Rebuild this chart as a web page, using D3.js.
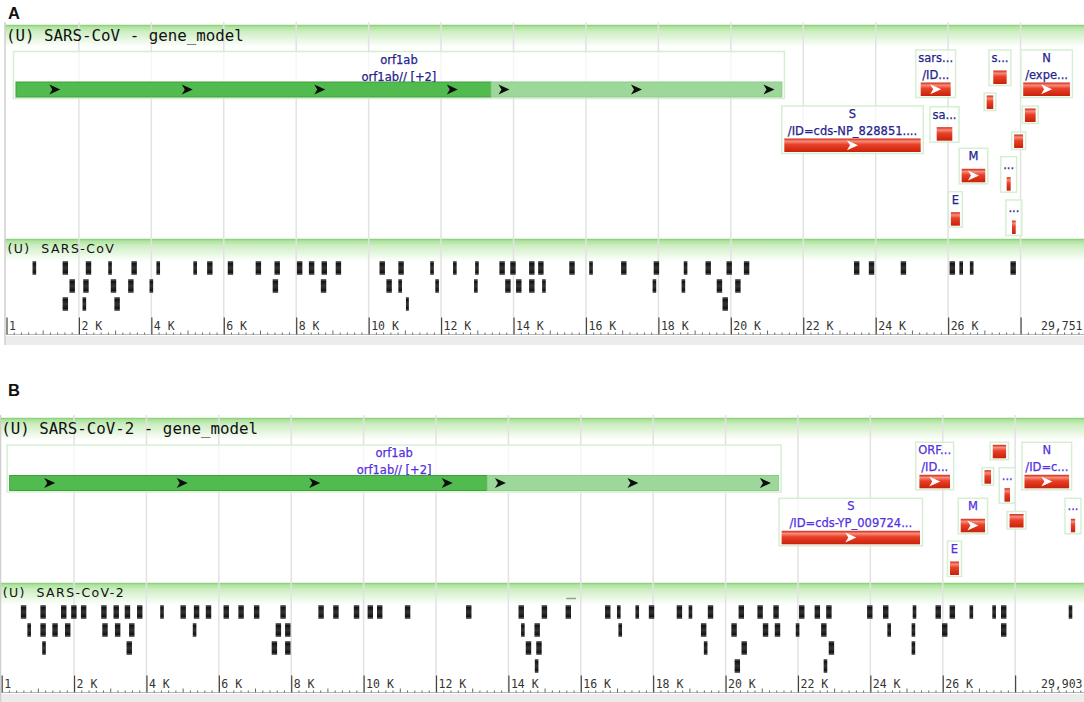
<!DOCTYPE html>
<html>
<head>
<meta charset="utf-8">
<script src="https://cdn.jsdelivr.net/npm/d3@7"></script>
<style>
  html, body { margin: 0; padding: 0; background: #fff; }
  svg { display: block; }
</style>
</head>
<body>
<svg id="chart" width="1084" height="702"></svg>
<script>
// ---------- data (genome coordinates, bp) ----------
const genomeLenA = 29751;
const genomeLenB = 29903;

const majorTicks = [2000, 4000, 6000, 8000, 10000, 12000, 14000, 16000, 18000, 20000, 22000, 24000, 26000, 28000];
// 28 K has no label: the end coordinate sits there
const tickLabels = ['2 K', '4 K', '6 K', '8 K', '10 K', '12 K', '14 K', '16 K', '18 K', '20 K', '22 K', '24 K', '26 K', ''];

// gene_model track, SARS-CoV
const genesA = [
  {id: 'orf1ab', segs: [[263, 13380], [13380, 21410]], labels: ['orf1ab', 'orf1ab// [+2]']},
  {id: 'S', segs: [[21476, 25242]], labels: ['S', '/ID=cds-NP_828851....']},
  {id: 'orf3a', segs: [[25242, 26070]], labels: ['sars...', '/ID...']},
  {id: 'orf3b', segs: [[25684, 26115]], labels: ['sa...']},
  {id: 'E', segs: [[26076, 26325]], labels: ['E']},
  {id: 'M', segs: [[26373, 27025]], labels: ['M']},
  {id: 'orf6', segs: [[27063, 27246]], labels: []},
  {id: 'orf7a', segs: [[27246, 27616]], labels: ['s...']},
  {id: 'orf7b', segs: [[27616, 27727]], labels: ['...']},
  {id: 'orf8a', segs: [[27763, 27866]], labels: ['...']},
  {id: 'orf8b', segs: [[27821, 28069]], labels: []},
  {id: 'N', segs: [[28073, 29363]], labels: ['N', '/expe...']},
  {id: 'orf9b', segs: [[28120, 28416]], labels: []},
];

// gene_model track, SARS-CoV-2
const genesB = [
  {id: 'orf1ab', segs: [[221, 13416], [13416, 21465]], labels: ['orf1ab', 'orf1ab// [+2]']},
  {id: 'S', segs: [[21548, 25372]], labels: ['S', '/ID=cds-YP_009724...']},
  {id: 'ORF3a', segs: [[25355, 26201]], labels: ['ORF...', '/ID...']},
  {id: 'E', segs: [[26201, 26450]], labels: ['E']},
  {id: 'M', segs: [[26497, 27169]], labels: ['M']},
  {id: 'ORF6', segs: [[27152, 27335]], labels: []},
  {id: 'ORF7a', segs: [[27382, 27750]], labels: []},
  {id: 'ORF7b', segs: [[27705, 27859]], labels: ['...']},
  {id: 'ORF8', segs: [[27846, 28233]], labels: []},
  {id: 'N', segs: [[28259, 29492]], labels: ['N', '/ID=c...']},
  {id: 'ORF10', segs: [[29540, 29659]], labels: ['...']},
];

// feature track SARS-CoV, one array per stacked row: [start, end]
const covRow1 = [
  [720, 820], [1550, 1700], [2190, 2340], [2810, 2910], [3450, 3600], [4140, 4240],
  [5160, 5260], [5540, 5690], [6110, 6260], [6880, 7030], [7400, 7550], [8020, 8170],
  [8350, 8500], [8700, 8850], [9090, 9240], [10300, 10450], [10820, 10970], [11700, 11800],
  [12330, 12430], [12940, 13040], [13610, 13760], [13910, 14060], [14430, 14580], [14680, 14830],
  [15540, 15690], [16090, 16190], [16970, 17120], [17870, 18020], [18700, 18800], [19300, 19450],
  [19880, 20030], [20360, 20510], [23400, 23550], [23810, 23960], [24690, 24840], [26040, 26190],
  [26310, 26410], [26600, 26700], [27720, 27870],
];
const covRow2 = [
  [1740, 1890], [2120, 2270], [2880, 3030], [3360, 3510], [3950, 4050], [7350, 7500],
  [8680, 8830], [10490, 10640], [10820, 10920], [11840, 11940], [12910, 13010], [13770, 13920],
  [14070, 14220], [14430, 14580], [14790, 14890], [17840, 17940], [18640, 18740], [19610, 19760],
  [20120, 20270],
];
const covRow3 = [
  [1550, 1700], [2100, 2200], [2980, 3130], [11030, 11110], [19770, 19920],
];

// feature track SARS-CoV-2
const cov2Row1 = [
  [530, 680], [1070, 1220], [1640, 1790], [1920, 2070], [2190, 2340], [2750, 2900],
  [3090, 3240], [3400, 3550], [3740, 3890], [4380, 4480], [4940, 5090], [5310, 5460],
  [5640, 5790], [6130, 6280], [6540, 6690], [6970, 7120], [7700, 7850], [8750, 8900],
  [9160, 9310], [9730, 9880], [10110, 10260], [10370, 10520], [11140, 11290], [12830, 12980],
  [14280, 14430], [14920, 15070], [15580, 15730], [16670, 16820], [17000, 17100], [17510, 17610],
  [17880, 18030], [18650, 18800], [18980, 19080], [19510, 19660], [20360, 20510], [20880, 21030],
  [21320, 21470], [22030, 22180], [22460, 22610], [22780, 22930], [23910, 24060], [24350, 24500],
  [25170, 25270], [25800, 25950], [26190, 26340], [26740, 26840], [27370, 27470], [27610, 27760],
  [29480, 29580],
];
const cov2Row2 = [
  [710, 810], [1070, 1220], [1400, 1550], [1750, 1900], [2780, 2930], [3130, 3280],
  [3520, 3670], [5280, 5380], [7570, 7720], [7830, 7980], [14350, 14450], [14720, 14870],
  [17040, 17140], [19320, 19470], [20160, 20310], [21030, 21180], [21360, 21510], [21940, 22040],
  [22640, 22790], [24470, 24570], [25140, 25240], [25980, 26130], [27610, 27760],
];
const cov2Row3 = [
  [1120, 1220], [3450, 3600], [7460, 7610], [7830, 7980], [14480, 14630], [14770, 14920],
  [19400, 19500], [20440, 20590], [22850, 23000], [25140, 25240],
];
const cov2Row4 = [
  [14730, 14830], [20250, 20400], [22710, 22810],
];
const cov2Dash = [[15600, 15870]];

// ---------- layout ----------
const W = 1084;

// top of each feature box below the gene_model header (stacking)
const geneTopA = {orf1ab: 26.5, orf3a: 25, orf7a: 25, N: 25, orf6: 68, S: 81, orf3b: 81.7,
  orf9b: 81, orf8b: 107, M: 123.3, orf7b: 131.7, E: 166.7, orf8a: 175};
const geneTopB = {orf1ab: 27, ORF3a: 24.3, N: 24.3, ORF7a: 24.3, ORF6: 49.7, ORF7b: 49.7,
  S: 80.3, M: 80.3, ORF10: 80.3, ORF8: 93.5, E: 123};

const panels = [
  {
    letter: 'A', letterY: 19, x0: 6.5, borderX: 5, genomeLen: genomeLenA, endLabel: '29,751',
    gridTop: 22, geneHdr: 25, varHdr: 239, axisY: 334.5, bottom: 345,
    geneTitle: '(U) SARS-CoV - gene_model', varTitle: '(U)  SARS-CoV',
    genes: genesA, geneTop: geneTopA, labelColor: '#24248c',
    rows: [covRow1, covRow2, covRow3], dash: [],
  },
  {
    letter: 'B', letterY: 396, x0: 1.7, borderX: 0.5, genomeLen: genomeLenB, endLabel: '29,903',
    gridTop: 415, geneHdr: 418, varHdr: 583, axisY: 692.5, bottom: 702,
    geneTitle: '(U) SARS-CoV-2 - gene_model', varTitle: '(U)  SARS-CoV-2',
    genes: genesB, geneTop: geneTopB, labelColor: '#5530df',
    rows: [cov2Row1, cov2Row2, cov2Row3, cov2Row4], dash: cov2Dash,
  },
];

const svg = d3.select('#chart');
const defs = svg.append('defs');

const grad = (id, stops) => {
  const g = defs.append('linearGradient')
    .attr('id', id)
    .attr('x1', 0).attr('y1', 0).attr('x2', 0).attr('y2', 1);
  stops.forEach(([o, c]) => g.append('stop').attr('offset', o).attr('stop-color', c));
};
grad('hdrGrad', [[0, '#a2de90'], [0.3, '#cdeec2'], [1, '#ffffff']]);
grad('redGrad', [[0, '#cf2810'], [0.2, '#f68c7c'], [0.45, '#ea4028'], [1, '#c8220a']]);
grad('markGrad', [[0, '#777'], [0.18, '#141414'], [0.5, '#333'], [0.82, '#141414'], [1, '#777']]);

const chevron = 'M-5.5,-5 L5.5,0 L-5.5,5 L-2.5,0 Z';
const arrowGap = 132.5;

const drawPanel = (p) => {
  const g = svg.append('g');
  const x = d3.scaleLinear().domain([1, p.genomeLen]).range([p.x0, W]);

  // bottom band under the ruler
  g.append('rect')
    .attr('x', p.borderX).attr('y', p.axisY + 1.5)
    .attr('width', W).attr('height', p.bottom - p.axisY - 1.5)
    .attr('fill', '#ececec');

  // track headers
  [p.geneHdr, p.varHdr].forEach(y => {
    g.append('rect')
      .attr('x', p.borderX).attr('y', y)
      .attr('width', W).attr('height', 22)
      .attr('fill', 'url(#hdrGrad)');
    g.append('line')
      .attr('x1', p.borderX).attr('x2', W)
      .attr('y1', y + 0.5).attr('y2', y + 0.5)
      .attr('stroke', '#8fd47c').attr('stroke-width', 1.5);
  });

  // vertical grid
  g.append('g').selectAll('line')
    .data(majorTicks)
    .join('line')
      .attr('x1', d => x(d)).attr('x2', d => x(d))
      .attr('y1', p.gridTop).attr('y2', p.axisY)
      .attr('stroke', '#e2e2e2').attr('stroke-width', 1.5);

  // left border
  g.append('line')
    .attr('x1', p.borderX).attr('x2', p.borderX)
    .attr('y1', p.gridTop).attr('y2', p.bottom)
    .attr('stroke', '#cfcfcf').attr('stroke-width', 1.5);

  // panel letter
  g.append('text')
    .attr('x', 8).attr('y', p.letterY)
    .attr('font-family', 'Liberation Sans, Arial, sans-serif')
    .attr('font-weight', 'bold').attr('font-size', 16.5)
    .attr('fill', '#111')
    .text(p.letter);

  // track titles
  g.append('text')
    .attr('x', p.x0 - 0.5).attr('y', p.geneHdr + 16)
    .attr('font-family', 'DejaVu Sans Mono, monospace')
    .attr('font-size', 15.8).attr('fill', '#111')
    .text(p.geneTitle);
  g.append('text')
    .attr('x', p.x0 + 1).attr('y', p.varHdr + 13.5)
    .style('white-space', 'pre')
    .attr('font-family', 'DejaVu Sans, sans-serif')
    .attr('font-size', 12.5).attr('letter-spacing', 1.4)
    .attr('fill', '#111')
    .text(p.varTitle);

  // gene features
  const geneG = g.append('g');
  p.genes.forEach(f => {
    const top = p.geneHdr + p.geneTop[f.id];
    const fx0 = x(f.segs[0][0]);
    const fx1 = x(f.segs[f.segs.length - 1][1]);
    const cx = (fx0 + fx1) / 2;
    const isOrf1ab = f.segs.length > 1;
    const nL = f.labels.length;
    const barH = isOrf1ab ? 15 : 13.5;
    const barTop = top + (nL === 2 ? (isOrf1ab ? 30.5 : 32.5) : nL === 1 ? 20.5 : 2.5);

    const box = geneG.append('rect');
    const texts = f.labels.map((t, i) => geneG.append('text')
      .attr('x', cx).attr('y', top + (i === 0 ? 12 : 29))
      .attr('text-anchor', 'middle')
      .attr('font-family', 'DejaVu Sans, sans-serif')
      .attr('font-size', 11.5)
      .attr('fill', p.labelColor)
      .attr('stroke', p.labelColor).attr('stroke-width', 0.25)
      .text(t));
    const lw = d3.max(texts, t => t.node().getComputedTextLength()) || 0;
    const bw = Math.max(fx1 - fx0, lw) + 5;
    box.attr('x', cx - bw / 2).attr('y', top)
      .attr('width', bw).attr('height', barTop + barH + 1.5 - top)
      .attr('fill', 'rgba(255,255,255,0.7)')
      .attr('stroke', '#d6efd2').attr('stroke-width', 1.5);

    f.segs.forEach((s, i) => {
      const sx0 = x(s[0]);
      const sx1 = x(s[1]);
      const w = sx1 - sx0;
      if (isOrf1ab) {
        geneG.append('rect')
          .attr('x', sx0).attr('y', barTop)
          .attr('width', w).attr('height', barH)
          .attr('fill', i === 0 ? '#52bb4f' : '#9dd89a')
          .attr('stroke', i === 0 ? '#3f9f3c' : '#8ccd89').attr('stroke-width', 1);
        const n = Math.floor(w / arrowGap);
        const off = (w - n * arrowGap) / 2;
        d3.range(n + 1).forEach(k => {
          geneG.append('path')
            .attr('d', chevron)
            .attr('transform', `translate(${sx0 + off + k * arrowGap}, ${barTop + barH / 2})`)
            .attr('fill', '#0d0d0d');
        });
      } else {
        geneG.append('rect')
          .attr('x', sx0).attr('y', barTop)
          .attr('width', w).attr('height', barH)
          .attr('fill', 'url(#redGrad)');
        if (w > 20) {
          geneG.append('path')
            .attr('d', chevron)
            .attr('transform', `translate(${sx0 + w / 2}, ${barTop + barH / 2})`)
            .attr('fill', '#fff');
        }
      }
    });
  });

  // feature track marks
  p.rows.forEach((row, i) => {
    g.append('g').selectAll('rect')
      .data(row)
      .join('rect')
        .attr('x', d => x(d[0]))
        .attr('width', d => x(d[1]) - x(d[0]))
        .attr('y', p.varHdr + 22 + i * 18)
        .attr('height', 14)
        .attr('fill', 'url(#markGrad)');
  });
  g.append('g').selectAll('line')
    .data(p.dash)
    .join('line')
      .attr('x1', d => x(d[0])).attr('x2', d => x(d[1]))
      .attr('y1', p.varHdr + 15.5).attr('y2', p.varHdr + 15.5)
      .attr('stroke', '#999').attr('stroke-width', 1.5);

  // ruler
  const axisG = g.append('g').attr('transform', `translate(0, ${p.axisY})`);
  axisG.append('line')
    .attr('x1', p.x0).attr('x2', W).attr('y1', 0).attr('y2', 0)
    .attr('stroke', '#b5b5b5');

  const minor = d3.range(200, p.genomeLen, 200).filter(d => d % 1000 !== 0);
  const mid = d3.range(1000, p.genomeLen, 2000);
  axisG.append('g')
    .call(d3.axisBottom(x).tickValues(minor).tickSize(-2).tickFormat(''))
    .call(a => a.select('.domain').remove())
    .selectAll('.tick line').attr('stroke', '#666');
  axisG.append('g')
    .call(d3.axisBottom(x).tickValues(mid).tickSize(-4).tickFormat(''))
    .call(a => a.select('.domain').remove())
    .selectAll('.tick line').attr('stroke', '#666');

  const majorAxis = d3.axisBottom(x)
    .tickValues([1, ...majorTicks])
    .tickSize(-17)
    .tickFormat((d, i) => i === 0 ? '1' : tickLabels[i - 1]);
  axisG.append('g')
    .call(majorAxis)
    .call(a => a.select('.domain').remove())
    .call(a => a.selectAll('.tick line').attr('stroke', '#444').attr('stroke-width', 1.2))
    .selectAll('.tick text')
      .attr('y', -4.5).attr('dy', null).attr('x', 2)
      .attr('text-anchor', 'start')
      .attr('font-family', 'DejaVu Sans Mono, monospace')
      .attr('font-size', 11.5).attr('fill', '#333');

  axisG.append('text')
    .attr('x', W - 1.5).attr('y', -4.5)
    .attr('text-anchor', 'end')
    .attr('font-family', 'DejaVu Sans Mono, monospace')
    .attr('font-size', 11.5).attr('fill', '#333')
    .text(p.endLabel);
};

panels.forEach(drawPanel);
</script>
</body>
</html>
